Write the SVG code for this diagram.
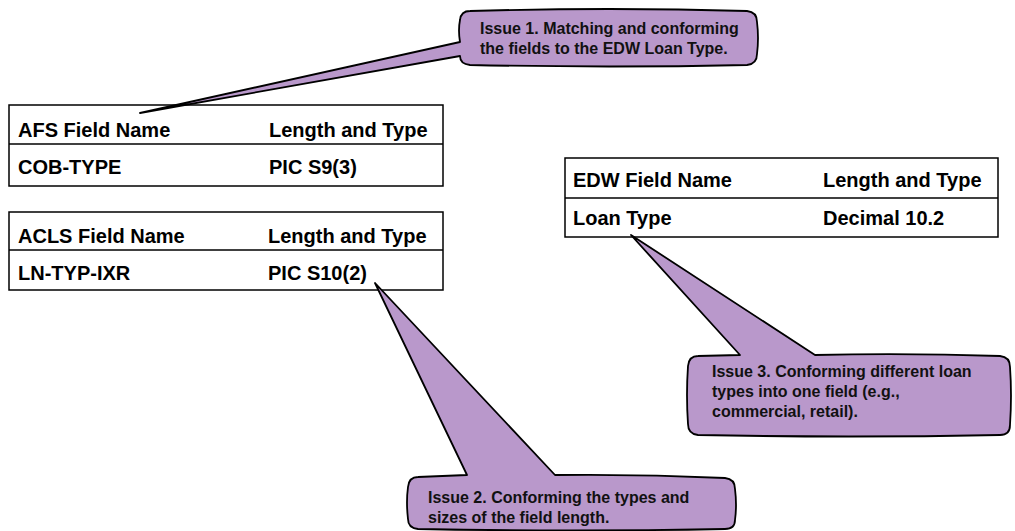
<svg xmlns="http://www.w3.org/2000/svg" width="1015" height="531" viewBox="0 0 1015 531">
<style>
.tbl{fill:#fff;stroke:#000;stroke-width:1.5}
.div{stroke:#000;stroke-width:1.5}
.tt{font-family:"Liberation Sans",Arial,sans-serif;font-weight:bold;font-size:20px;fill:#000}
.co{fill:#B998CB;stroke:#000;stroke-width:1.8;stroke-linejoin:round}
.ct{font-family:"Liberation Sans",Arial,sans-serif;font-weight:bold;font-size:16px;fill:#111}
</style>
<rect width="1015" height="531" fill="#fff"/>
<g id="afs-table">
<rect class="tbl" x="9" y="105" width="434" height="81"/>
<line class="div" x1="9" y1="144" x2="443" y2="144"/>
<text class="tt" x="18" y="137">AFS Field Name</text>
<text class="tt" x="269" y="137">Length and Type</text>
<text class="tt" x="18" y="174">COB-TYPE</text>
<text class="tt" x="269" y="174">PIC S9(3)</text>
</g>
<g id="acls-table">
<rect class="tbl" x="9" y="212" width="434" height="78"/>
<line class="div" x1="9" y1="250" x2="443" y2="250"/>
<text class="tt" x="18" y="243">ACLS Field Name</text>
<text class="tt" x="268" y="243">Length and Type</text>
<text class="tt" x="18" y="280">LN-TYP-IXR</text>
<text class="tt" x="268" y="280">PIC S10(2)</text>
</g>
<g id="edw-table">
<rect class="tbl" x="565" y="158" width="433" height="79"/>
<line class="div" x1="565" y1="198" x2="998" y2="198"/>
<text class="tt" x="573" y="187">EDW Field Name</text>
<text class="tt" x="823" y="187">Length and Type</text>
<text class="tt" x="573" y="225">Loan Type</text>
<text class="tt" x="823" y="225">Decimal 10.2</text>
</g>
<g id="connectors">
<g id="issue1">
<path class="co" d="M470,11 Q610,7 747,11 Q757,12 757,22 Q759,38 757,54 Q757,64 747,65 Q610,68 470,65 Q460,64 460,56 L140,113 L460,42 Q458,30 460,20 Q461,11 470,11 Z"/>
<text class="ct" x="480" y="34">Issue 1. Matching and conforming</text>
<text class="ct" x="480" y="54">the fields to the EDW Loan Type.</text>
</g>
<g id="issue2">
<path class="co" d="M418,477 L467,475 L375,283 L555,475 Q640,474 725,478 Q735,479 735,489 Q737,505 735,520 Q735,529 725,529 Q571,532 418,529 Q408,528 408,519 Q406,502 408,487 Q409,477 418,477 Z"/>
<text class="ct" x="428" y="503">Issue 2. Conforming the types and</text>
<text class="ct" x="428" y="523">sizes of the field length.</text>
</g>
<g id="issue3">
<path class="co" d="M698,356 L740,355 L631,235 L815,355 Q908,353 1000,356 Q1010,357 1010,367 Q1012,395 1010,425 Q1010,435 1000,435 Q849,438 698,435 Q688,434 688,424 Q686,395 688,366 Q689,356 698,356 Z"/>
<text class="ct" x="712" y="377">Issue 3. Conforming different loan</text>
<text class="ct" x="712" y="397">types into one field (e.g.,</text>
<text class="ct" x="712" y="417">commercial, retail).</text>
</g>
</g>
</svg>
